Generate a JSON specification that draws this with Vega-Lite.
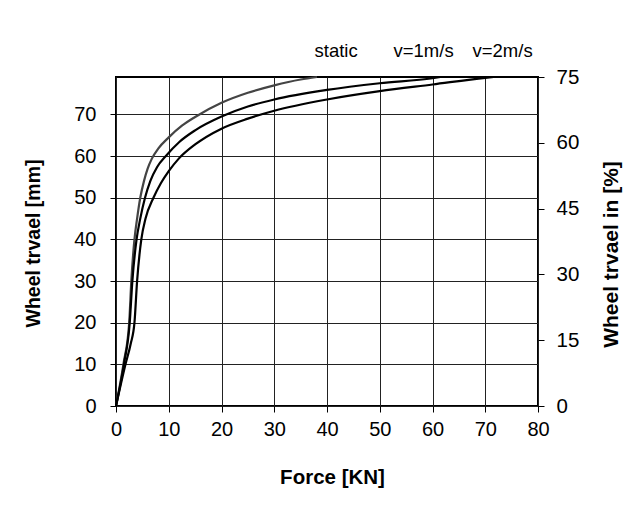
{
  "$schema": "https://vega.github.io/schema/vega-lite/v6.json",
  "width": 422,
  "height": 329,
  "autosize": {"type": "none"},
  "padding": {"left": 116, "top": 77, "right": 96, "bottom": 100},
  "background": "white",
  "config": {
    "font": "Liberation Sans",
    "view": {"stroke": "#000000", "strokeWidth": 2}
  },
  "data": {
    "values": [
      {"series": "static", "force": 0, "travel": 0},
      {"series": "static", "force": 1.4, "travel": 10},
      {"series": "static", "force": 2.5, "travel": 20},
      {"series": "static", "force": 2.9, "travel": 30},
      {"series": "static", "force": 3.5, "travel": 40},
      {"series": "static", "force": 4.0, "travel": 45},
      {"series": "static", "force": 4.6, "travel": 50},
      {"series": "static", "force": 5.3, "travel": 54},
      {"series": "static", "force": 6.0, "travel": 57.0},
      {"series": "static", "force": 6.8, "travel": 59.4},
      {"series": "static", "force": 8, "travel": 61.8},
      {"series": "static", "force": 10, "travel": 64.5},
      {"series": "static", "force": 12.5, "travel": 67.3},
      {"series": "static", "force": 15, "travel": 69.4},
      {"series": "static", "force": 20, "travel": 72.8},
      {"series": "static", "force": 25, "travel": 75.2},
      {"series": "static", "force": 30, "travel": 77.0},
      {"series": "static", "force": 35, "travel": 78.4},
      {"series": "static", "force": 38.1, "travel": 79},
      {"series": "v=1m/s", "force": 0, "travel": 0},
      {"series": "v=1m/s", "force": 1.5, "travel": 10},
      {"series": "v=1m/s", "force": 2.6, "travel": 20},
      {"series": "v=1m/s", "force": 3.1, "travel": 30},
      {"series": "v=1m/s", "force": 3.9, "travel": 40},
      {"series": "v=1m/s", "force": 4.6, "travel": 45},
      {"series": "v=1m/s", "force": 5.5, "travel": 50},
      {"series": "v=1m/s", "force": 6.5, "travel": 54},
      {"series": "v=1m/s", "force": 7.8, "travel": 57.4},
      {"series": "v=1m/s", "force": 9.5, "travel": 60.1},
      {"series": "v=1m/s", "force": 12, "travel": 63.4},
      {"series": "v=1m/s", "force": 15, "travel": 66.2},
      {"series": "v=1m/s", "force": 20, "travel": 69.5},
      {"series": "v=1m/s", "force": 25, "travel": 71.9},
      {"series": "v=1m/s", "force": 30, "travel": 73.6},
      {"series": "v=1m/s", "force": 40, "travel": 75.9},
      {"series": "v=1m/s", "force": 50, "travel": 77.5},
      {"series": "v=1m/s", "force": 60, "travel": 78.7},
      {"series": "v=1m/s", "force": 61.5, "travel": 79},
      {"series": "v=2m/s", "force": 0, "travel": 0},
      {"series": "v=2m/s", "force": 1.8, "travel": 10},
      {"series": "v=2m/s", "force": 2.8, "travel": 15},
      {"series": "v=2m/s", "force": 3.5, "travel": 20},
      {"series": "v=2m/s", "force": 4.0, "travel": 30},
      {"series": "v=2m/s", "force": 4.8, "travel": 40},
      {"series": "v=2m/s", "force": 5.6, "travel": 45},
      {"series": "v=2m/s", "force": 7.1, "travel": 50},
      {"series": "v=2m/s", "force": 8.5, "travel": 53.5},
      {"series": "v=2m/s", "force": 10, "travel": 56.4},
      {"series": "v=2m/s", "force": 11.9, "travel": 59.4},
      {"series": "v=2m/s", "force": 15, "travel": 62.8},
      {"series": "v=2m/s", "force": 20, "travel": 66.6},
      {"series": "v=2m/s", "force": 25, "travel": 69.0},
      {"series": "v=2m/s", "force": 30, "travel": 70.9},
      {"series": "v=2m/s", "force": 40, "travel": 73.6},
      {"series": "v=2m/s", "force": 50, "travel": 75.6},
      {"series": "v=2m/s", "force": 60, "travel": 77.2},
      {"series": "v=2m/s", "force": 70, "travel": 78.8},
      {"series": "v=2m/s", "force": 71.6, "travel": 79}
    ]
  },
  "layer": [
    {
      "mark": {"type": "line", "strokeWidth": 2.2, "interpolate": "monotone"},
      "encoding": {
        "x": {
          "field": "force",
          "type": "quantitative",
          "scale": {"domain": [0, 80], "nice": false, "zero": false},
          "axis": {
            "title": "Force [KN]",
            "values": [0, 10, 20, 30, 40, 50, 60, 70, 80],
            "grid": true,
            "gridColor": "#222222",
            "gridWidth": 1,
            "gridOpacity": 1,
            "domain": false,
            "ticks": true,
            "tickColor": "#000000",
            "tickSize": 6,
            "tickWidth": 1,
            "labelFontSize": 20,
            "labelColor": "#000000",
            "labelPadding": 7,
            "labelFlush": false,
            "labelOverlap": false,
            "titleFontSize": 20.5,
            "titleFontWeight": "bold",
            "titleColor": "#000000",
            "titleX": 216,
            "titleY": 61
          }
        },
        "y": {
          "field": "travel",
          "type": "quantitative",
          "scale": {"domain": [0, 79], "nice": false, "zero": false},
          "axis": {
            "title": "Wheel trvael [mm]",
            "values": [0, 10, 20, 30, 40, 50, 60, 70],
            "grid": true,
            "gridColor": "#222222",
            "gridWidth": 1,
            "gridOpacity": 1,
            "domain": false,
            "ticks": true,
            "tickColor": "#000000",
            "tickSize": 6,
            "tickWidth": 1,
            "labelFontSize": 20,
            "labelColor": "#000000",
            "labelPadding": 14,
            "labelFlush": false,
            "labelOverlap": false,
            "titleFontSize": 19.5,
            "titleFontWeight": "bold",
            "titleColor": "#000000",
            "titleAngle": 270,
            "titleBaseline": "bottom",
            "titleX": -73,
            "titleY": 166
          }
        },
        "color": {
          "field": "series",
          "type": "nominal",
          "scale": {
            "domain": ["static", "v=1m/s", "v=2m/s"],
            "range": ["#444444", "#000000", "#000000"]
          },
          "legend": {
            "orient": "none",
            "legendX": 180,
            "legendY": -35,
            "direction": "horizontal",
            "title": null,
            "gridAlign": "all",
            "symbolSize": 0,
            "symbolStrokeWidth": 0,
            "symbolOpacity": 0,
            "labelOffset": 0,
            "columnPadding": -5,
            "labelFontSize": 18.5,
            "labelColor": "#000000"
          }
        },
        "order": {"field": "force", "type": "quantitative"}
      }
    },
    {
      "mark": {"type": "line", "opacity": 0, "strokeOpacity": 0},
      "encoding": {
        "x": {"field": "force", "type": "quantitative"},
        "y": {
          "field": "travel",
          "type": "quantitative",
          "scale": {"domain": [0, 75], "nice": false, "zero": false},
          "axis": {
            "orient": "right",
            "title": "Wheel trvael in [%]",
            "values": [0, 15, 30, 45, 60, 75],
            "grid": false,
            "domain": false,
            "ticks": true,
            "tickColor": "#000000",
            "tickSize": 6,
            "tickWidth": 1,
            "labelFontSize": 20.5,
            "labelColor": "#000000",
            "labelPadding": 12,
            "labelFlush": false,
            "labelOverlap": false,
            "titleFontSize": 21,
            "titleFontWeight": "bold",
            "titleColor": "#000000",
            "titleAngle": 270,
            "titleBaseline": "top",
            "titleX": 62,
            "titleY": 177
          }
        },
        "detail": {"field": "series"}
      }
    }
  ],
  "resolve": {"scale": {"y": "independent"}}
}
